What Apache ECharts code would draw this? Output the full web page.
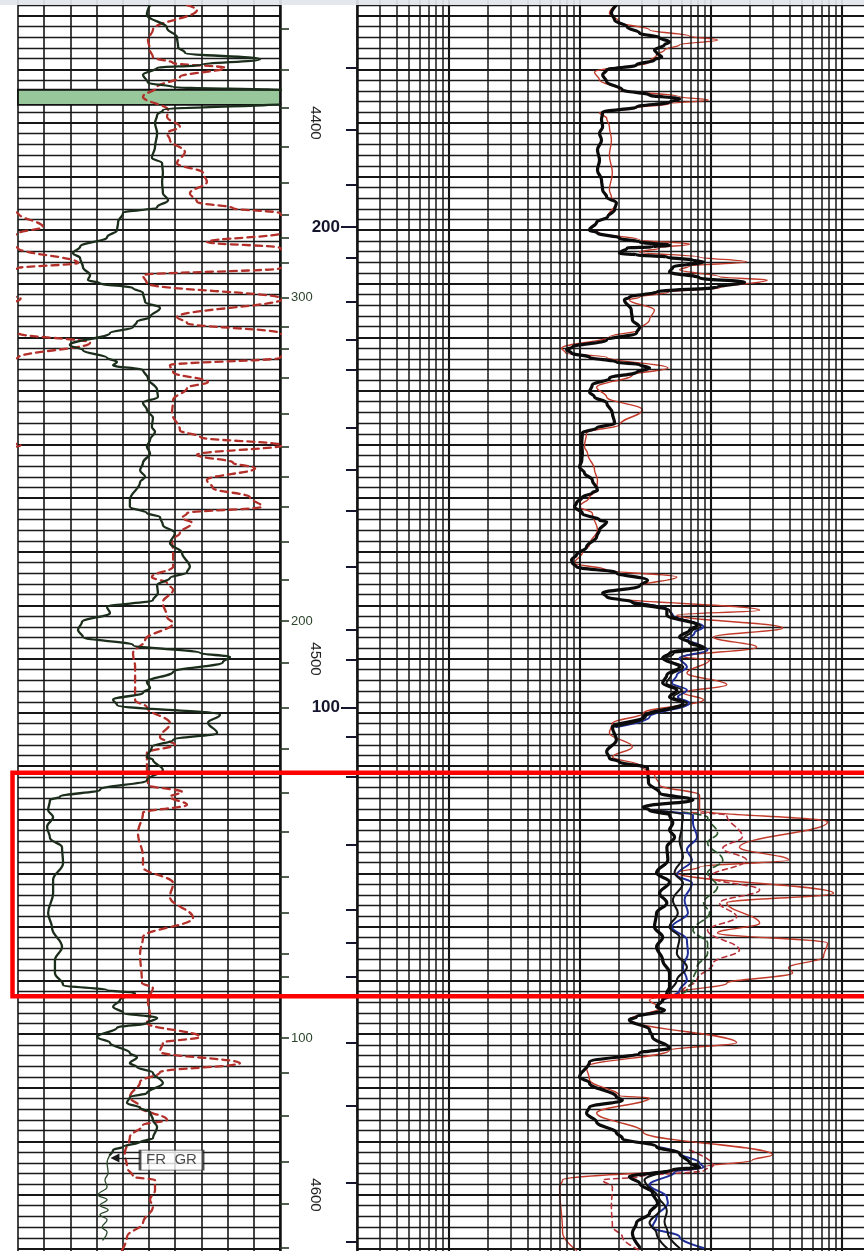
<!DOCTYPE html>
<html><head><meta charset="utf-8">
<script src="https://cdn.jsdelivr.net/npm/echarts@6/dist/echarts.min.js"></script>
<style>html,body{margin:0;padding:0;background:#fff}#c{width:864px;height:1251px}</style>
</head><body><div id="c"></div>
<script>
// ---------------- DATA ----------------
const depthMin = 4370, depthMax = 4620;
const depthLabels = [4400, 4500, 4600];

// Left track tick marks (right edge) and their labels
const leftTickDepths = [4382.5,4390.1,4397.2,4404.5,4411.2,4417.2,4421.5,4426.1,4432.6,4438.1,4442.2,4447.6,4454.3,4460.4,4466.0,4471.6,4478.2,4485.3,4492.9,4500.7,4509.1,4516.8,4525.0,4532.3,4540.7,4547.4,4554.9,4559.3,4570.7,4577.2,4585.3,4593.8,4601.7,4609.9];
const leftLabelDepths = [4432.6, 4492.9, 4570.7];
const leftLabelText = ['300', '200', '100'];

// Right track tick marks (left edge) and their labels
const rightTickDepths = [4389.7,4401.3,4411.6,4419.4,4425.2,4433.4,4440.5,4446.1,4456.9,4464.7,4472.4,4482.8,4494.6,4500.2,4509.1,4514.5,4522.0,4534.7,4546.8,4553.0,4559.3,4571.6,4583.4,4597.8,4608.8];
const rightLabelDepths = [4419.4, 4509.1];
const rightLabelText = ['200', '100'];

// log grid lines of the right track
const logGridLines = [0.2,0.3,0.4,0.5,0.6,0.7,0.8,0.9,1,2,3,4,5,6,7,8,9,10,20,30,40,50,60,70,80,90,100,200,300,400,500,600,700,800,900,1000,2000];
const logDecades = [1,10,100,1000];

// Left track: solid curve  [value (chart divisions 0-10), depth]
const curveA = [[5.04,4378.0],[4.92,4379.8],[5.69,4382.3],[6.07,4384.0],[6.11,4385.8],[6.37,4386.9],[9.24,4388.1],[6.95,4389.2],[5.31,4389.7],[4.77,4391.0],[4.96,4392.5],[5.92,4393.3],[10.2,4393.9],[10.2,4396.3],[5.53,4397.6],[5.31,4398.5],[5.23,4400.0],[5.31,4401.9],[5.23,4404.5],[5.11,4406.5],[5.50,4407.5],[5.53,4409.3],[5.50,4411.0],[5.53,4413.1],[5.73,4414.4],[5.31,4415.7],[4.01,4416.8],[3.82,4418.5],[3.78,4420.0],[3.40,4421.3],[2.37,4423.1],[2.10,4424.3],[2.37,4425.2],[2.48,4426.9],[2.75,4428.4],[2.67,4429.3],[3.13,4429.9],[4.39,4430.8],[4.77,4431.7],[4.85,4433.4],[5.42,4434.5],[5.04,4436.2],[4.54,4437.1],[4.39,4438.1],[3.51,4439.2],[1.98,4441.4],[2.48,4442.4],[3.40,4443.8],[3.78,4444.6],[3.63,4445.2],[4.77,4446.1],[4.96,4447.6],[5.31,4449.8],[5.34,4451.1],[4.77,4452.2],[4.92,4453.5],[5.15,4455.0],[5.11,4456.7],[5.23,4457.6],[5.04,4459.1],[4.92,4460.4],[5.04,4461.6],[4.77,4463.4],[4.66,4464.8],[4.85,4466.0],[4.66,4467.0],[4.27,4470.3],[4.27,4471.6],[4.92,4472.8],[5.42,4473.5],[5.53,4475.0],[5.99,4476.5],[5.80,4478.4],[6.26,4480.2],[6.56,4482.8],[6.45,4483.8],[5.80,4484.9],[5.31,4486.2],[5.34,4487.7],[5.15,4489.0],[3.40,4490.3],[3.51,4491.4],[2.44,4493.1],[2.29,4494.6],[2.48,4495.9],[4.39,4497.4],[6.95,4498.9],[8.09,4499.6],[7.82,4500.6],[5.92,4502.4],[4.92,4504.3],[5.04,4505.4],[4.77,4506.3],[3.63,4507.6],[3.78,4508.6],[7.71,4510.4],[7.25,4511.9],[7.60,4513.8],[5.92,4515.1],[5.11,4516.4],[4.92,4518.3],[5.15,4518.8],[5.53,4520.7],[4.92,4522.6],[3.13,4524.4],[1.60,4525.7],[1.22,4526.3],[1.15,4528.2],[1.34,4529.5],[1.11,4531.3],[1.22,4533.4],[1.68,4535.1],[1.72,4538.1],[1.34,4541.2],[1.34,4543.7],[1.15,4547.4],[1.30,4550.2],[1.68,4553.7],[1.41,4556.2],[1.41,4558.6],[1.72,4560.8],[3.40,4561.8],[4.47,4562.3],[3.89,4563.6],[3.63,4564.9],[4.01,4566.0],[5.31,4567.0],[4.92,4567.9],[3.78,4568.8],[3.02,4570.5],[3.51,4571.6],[4.27,4573.5],[4.54,4574.3],[4.27,4575.4],[4.54,4576.1],[5.15,4577.2],[5.53,4579.1],[4.92,4581.0],[4.27,4581.7],[4.16,4582.8],[4.66,4583.8],[5.04,4584.5],[5.15,4586.0],[5.31,4587.3],[5.15,4589.4],[4.66,4590.1],[4.01,4591.0],[3.63,4591.6],[3.51,4592.5]];
const curveAThin = [[3.51,4592.5],[3.40,4594.0],[3.44,4595.9],[3.32,4597.2],[3.40,4598.5],[3.05,4600.0],[3.40,4600.9],[3.13,4601.9],[3.44,4602.8],[3.13,4603.7],[3.40,4604.6],[3.21,4606.0],[3.40,4606.9],[3.24,4608.4]];
// Left track: dashed curve (values above 10 wrap onto the backup scale)
const curveB = [[6.45,4378.0],[6.83,4378.9],[5.15,4382.6],[4.96,4384.5],[5.04,4386.4],[5.15,4387.7],[5.92,4388.8],[7.90,4389.7],[6.18,4391.4],[5.31,4393.3],[4.77,4395.1],[5.73,4397.6],[5.69,4398.9],[6.18,4400.7],[5.69,4401.9],[5.80,4403.2],[6.37,4405.4],[6.07,4407.5],[7.06,4409.3],[7.21,4411.0],[6.56,4413.1],[6.83,4414.7],[8.21,4415.9],[10.0,4416.8],[10.95,4419.4],[10.0,4420.6],[7.21,4422.2],[10.0,4423.3],[12.29,4426.1],[10.0,4427.1],[4.77,4428.4],[4.92,4429.9],[10.1,4432.8],[6.07,4436.2],[6.45,4437.3],[10.0,4439.2],[12.75,4441.0],[10.0,4443.8],[5.80,4445.2],[5.92,4446.5],[7.25,4448.3],[6.45,4449.4],[5.92,4451.7],[5.88,4454.1],[6.18,4457.3],[6.95,4458.6],[10.1,4460.1],[6.83,4461.9],[8.21,4463.4],[9.05,4464.4],[7.21,4466.6],[7.44,4468.1],[8.85,4469.8],[9.31,4471.6],[6.45,4472.8],[6.26,4473.7],[6.64,4474.6],[6.18,4476.5],[5.88,4477.8],[5.92,4480.2],[5.92,4482.8],[5.11,4484.7],[5.69,4485.8],[5.92,4487.1],[5.53,4489.4],[5.69,4492.2],[5.92,4493.3],[4.85,4496.5],[4.39,4498.9],[4.47,4501.5],[4.47,4507.7],[4.92,4509.0],[5.80,4512.0],[5.42,4514.6],[5.99,4516.0],[4.92,4517.5],[4.92,4520.2],[4.96,4523.5],[6.26,4524.8],[5.80,4525.7],[6.45,4527.2],[4.77,4528.7],[4.58,4532.5],[4.77,4536.9],[4.77,4538.8],[5.92,4541.8],[5.80,4544.4],[6.68,4548.3],[4.77,4551.9],[4.66,4554.9],[4.73,4560.4],[5.15,4561.4],[4.96,4563.6],[5.04,4566.8],[4.92,4567.9],[6.95,4570.5],[5.53,4571.6],[5.42,4573.3],[8.47,4575.4],[5.42,4577.1],[4.66,4578.9],[4.27,4581.7],[4.66,4583.6],[5.69,4586.0],[4.77,4586.9],[4.27,4589.2],[4.08,4592.2],[4.16,4594.8],[4.39,4596.6],[5.23,4597.2],[5.23,4599.1],[5.04,4600.9],[5.15,4602.2],[4.77,4605.2],[4.16,4607.8],[3.97,4610.3]];
const greenBand = [4393.8, 4396.6];
const labelFRGR = {value: 5.86, depth: 4593.5, arrowFrom: 4.66, arrowTo: 3.7, arrowDepth: 4593.1, text: 'FR  GR'};

// Right track (log, 0.2 - 2000): [value, depth]
const blackMain = [[19.1,4378.0],[17.5,4379.5],[18.5,4380.8],[23.1,4382.1],[28.7,4383.2],[40.8,4384.1],[48.6,4384.9],[44.5,4385.4],[37.3,4386.4],[38.7,4386.9],[42.4,4387.7],[37.3,4388.2],[27.2,4389.2],[16.1,4390.1],[15.0,4391.0],[16.1,4392.3],[21.2,4393.8],[34.2,4394.8],[58.0,4395.5],[48.6,4396.1],[27.2,4397.0],[15.0,4398.0],[14.7,4399.4],[15.0,4400.7],[14.2,4401.9],[14.7,4403.2],[13.7,4405.0],[14.2,4406.9],[13.7,4408.8],[14.7,4410.6],[15.0,4412.5],[16.1,4413.8],[19.1,4414.9],[18.5,4416.2],[16.4,4417.5],[13.5,4418.5],[11.9,4420.0],[13.7,4420.5],[20.2,4421.5],[28.7,4422.2],[48.6,4422.8],[36.0,4423.1],[23.1,4423.3],[20.2,4424.3],[27.2,4424.6],[46.4,4425.0],[73.4,4425.6],[88.4,4425.9],[51.5,4426.9],[48.6,4427.8],[82.4,4428.9],[182,4429.7],[113,4430.6],[38.7,4431.5],[24.0,4432.5],[22.0,4433.0],[24.8,4434.9],[25.3,4436.7],[28.7,4438.1],[27.2,4439.2],[16.1,4440.5],[8.83,4441.8],[7.96,4442.3],[8.68,4442.9],[11.9,4443.7],[19.1,4444.6],[28.7,4445.1],[34.2,4445.7],[27.2,4446.5],[16.9,4447.6],[12.5,4448.9],[11.9,4450.2],[13.0,4451.1],[16.1,4452.2],[17.8,4454.1],[18.5,4456.0],[13.5,4456.9],[10.5,4457.8],[10.4,4459.7],[10.5,4461.6],[10.4,4462.9],[10.0,4464.2],[10.9,4465.3],[12.5,4466.6],[13.7,4468.5],[12.5,4469.0],[10.5,4469.8],[9.47,4470.9],[9.15,4471.6],[10.5,4472.8],[14.2,4474.1],[16.1,4474.4],[14.2,4475.9],[13.5,4477.2],[11.3,4479.1],[9.47,4480.6],[8.68,4481.5],[8.83,4482.1],[9.47,4482.8],[19.1,4483.9],[33.0,4485.3],[28.7,4486.4],[15.0,4487.7],[16.1,4488.4],[25.3,4489.4],[46.4,4490.9],[46.4,4491.8],[78.8,4493.7],[69.1,4494.6],[58.0,4495.9],[69.1,4497.0],[88.4,4497.8],[48.6,4498.9],[43.1,4499.8],[58.0,4501.5],[46.4,4503.0],[43.1,4504.5],[55.3,4505.8],[48.6,4507.1],[61.5,4508.2],[30.7,4510.8],[17.8,4512.7],[19.1,4515.1],[16.1,4517.3],[16.9,4518.5],[20.2,4519.2],[33.0,4520.3],[33.6,4523.1],[40.8,4525.0],[73.4,4526.3],[30.7,4527.6],[34.2,4528.2],[48.6,4529.1],[51.5,4530.6],[48.6,4531.9],[53.1,4533.2],[46.4,4535.1],[47.2,4537.5],[38.7,4539.9],[48.6,4541.6],[40.8,4543.7],[46.4,4545.5],[38.7,4547.4],[37.3,4550.0],[43.1,4551.9],[38.7,4553.7],[43.1,4556.2],[48.6,4558.6],[48.6,4561.2],[46.4,4562.3],[43.1,4563.6],[38.7,4564.9],[44.5,4565.5],[27.2,4566.8],[24.0,4567.3],[34.2,4569.2],[36.0,4570.5],[48.6,4572.6],[28.7,4573.5],[11.9,4575.2],[10.0,4578.0],[11.9,4579.1],[19.1,4581.7],[21.2,4582.3],[11.9,4583.6],[11.3,4584.7],[13.5,4586.4],[19.1,4588.4],[21.2,4589.4],[38.7,4591.0],[58.0,4592.2],[69.1,4594.0],[82.4,4594.8],[51.5,4595.3],[24.0,4596.6],[28.7,4597.8],[36.0,4599.6],[39.4,4601.5],[34.2,4603.4],[27.2,4605.2],[25.3,4607.1],[28.7,4609.7]];
const blackSecondUpper = [[25.3,4489.4],[48.6,4490.9],[50.6,4491.8],[84.0,4493.9],[72.0,4494.8],[62.0,4496.2],[75.0,4497.2],[92.0,4498.0],[52.0,4499.0],[45.0,4500.0],[62.0,4501.5],[50.0,4503.0],[46.0,4504.5],[60.0,4505.8],[52.0,4507.1],[66.0,4508.2],[32.0,4510.8],[17.8,4512.7]];
const blackSecondBox = [[34.2,4528.2],[61.5,4529.1],[60.4,4531.3],[58.0,4533.8],[61.5,4536.9],[53.1,4539.9],[61.5,4541.8],[51.5,4545.0],[56.2,4547.4],[48.6,4550.0],[58.0,4551.9],[55.3,4554.9],[66.0,4557.5],[55.3,4559.9],[48.6,4562.3],[43.1,4563.6]];
const blackSecondLower = [[51.5,4595.3],[31.3,4597.2],[40.8,4600.9],[40.8,4602.8],[34.2,4605.2],[38.7,4607.1],[46.4,4609.9]];
const blackThirdLower = [[40.8,4600.9],[46.4,4603.0],[44.5,4605.0],[47.2,4607.1],[58.0,4609.9]];
const blueUpper = [[25.3,4489.4],[48.6,4490.9],[51.5,4491.8],[88.4,4494.0],[75.5,4495.1],[67.2,4496.5],[82.4,4497.4],[94.9,4498.3],[58.0,4499.8],[66.0,4501.5],[55.3,4503.0],[50.6,4504.5],[66.0,4505.8],[56.2,4507.1],[69.1,4508.2],[34.2,4510.8],[19.1,4512.7]];
const blueBox = [[34.2,4528.2],[73.4,4529.1],[73.4,4530.6],[78.8,4533.2],[66.0,4535.6],[72.1,4537.5],[55.3,4540.3],[72.1,4541.8],[63.3,4545.0],[67.2,4547.4],[50.6,4550.0],[66.0,4552.4],[67.2,4554.9],[61.5,4557.5],[66.0,4559.9],[58.0,4561.8],[43.1,4563.6]];
const blueLower = [[38.7,4591.0],[58.0,4592.2],[82.4,4594.0],[88.4,4594.8],[53.1,4595.7],[34.2,4598.1],[46.4,4600.4],[47.2,4601.5],[38.7,4604.1],[36.0,4606.0],[58.0,4607.8],[88.4,4609.9]];
const greenDashBox = [[61.5,4528.6],[94.9,4529.5],[113,4532.5],[94.9,4534.3],[124,4537.5],[94.9,4539.9],[113,4542.5],[88.4,4545.5],[98.2,4547.4],[73.4,4550.6],[94.9,4553.0],[94.9,4554.9],[78.8,4557.5],[73.4,4559.9],[66.0,4561.8],[48.6,4563.1]];
const redDashBox = [[61.5,4528.6],[133,4529.1],[175,4533.2],[124,4535.3],[188,4537.5],[98.2,4540.7],[237,4543.1],[117,4545.5],[158,4548.1],[94.9,4550.6],[166,4554.3],[105,4556.7],[78.8,4559.9],[61.5,4561.8],[48.6,4563.1]];
const redDashLower = [[69.1,4591.6],[105,4594.5],[90.0,4595.4],[28.7,4596.6],[15.0,4597.2],[17.8,4598.5],[17.5,4602.2],[17.8,4605.9],[21.2,4607.8],[28.7,4610.3]];
const redSolid = [[19.1,4378.0],[16.9,4379.5],[20.2,4381.2],[34.2,4382.6],[69.1,4383.8],[113,4384.5],[58.0,4385.4],[44.5,4386.4],[38.7,4387.3],[34.2,4388.6],[13.0,4390.5],[14.2,4392.0],[20.2,4393.8],[58.0,4395.1],[96.6,4395.7],[48.6,4396.4],[27.2,4397.2],[14.2,4398.1],[16.1,4399.1],[16.9,4400.7],[17.5,4403.2],[16.9,4406.0],[17.8,4409.3],[16.9,4412.5],[17.5,4413.8],[19.1,4414.9],[16.4,4417.5],[13.5,4418.5],[11.9,4420.0],[14.2,4420.5],[28.7,4421.8],[69.1,4422.6],[40.8,4423.3],[28.7,4424.1],[82.4,4425.0],[188,4425.9],[69.1,4426.7],[58.0,4427.4],[117,4428.7],[271,4429.3],[117,4430.8],[48.6,4431.5],[28.7,4432.5],[24.0,4433.0],[37.3,4434.9],[34.2,4436.7],[28.7,4438.6],[16.9,4439.9],[7.29,4442.0],[7.82,4442.9],[16.1,4443.7],[47.2,4445.7],[25.3,4447.0],[13.5,4449.3],[16.1,4451.1],[30.2,4453.5],[20.2,4456.3],[11.3,4457.8],[10.9,4460.4],[11.5,4461.6],[13.0,4464.7],[13.7,4466.6],[13.5,4468.5],[11.9,4469.8],[10.0,4471.6],[12.5,4472.8],[13.7,4475.9],[11.9,4478.7],[10.5,4480.2],[9.15,4482.1],[16.1,4483.4],[55.3,4484.7],[28.7,4486.4],[15.0,4487.7],[16.1,4488.4],[237,4490.9],[55.3,4491.8],[355,4494.2],[105,4495.9],[225,4497.8],[61.5,4499.6],[98.2,4500.2],[66.0,4502.6],[133,4504.8],[61.5,4506.3],[88.4,4507.6],[30.7,4510.1],[17.8,4512.0],[16.9,4513.8],[25.3,4516.4],[17.8,4518.3],[28.7,4519.8],[37.3,4521.6],[40.8,4523.5],[82.4,4525.4],[82.4,4528.2],[782,4530.4],[166,4535.1],[394,4537.5],[82.4,4538.8],[55.3,4539.9],[868,4543.7],[133,4545.5],[237,4549.3],[113,4551.1],[782,4553.0],[728,4555.6],[394,4557.6],[423,4558.6],[133,4560.5],[55.3,4562.3],[34.2,4563.6],[40.8,4565.1],[24.0,4567.3],[158,4571.6],[48.6,4573.0],[11.3,4576.1],[11.9,4578.5],[20.2,4581.5],[34.2,4581.9],[13.5,4584.7],[30.7,4588.3],[297,4592.5],[208,4593.5],[88.4,4594.8],[7.42,4597.2],[7.04,4598.5],[7.42,4607.1],[9.47,4610.3]];

// annotation box (depth range) around the zone of interest
const redBoxDepths = [4521.2, 4562.9];
const redBoxLeftValue = -0.21;

// ---------------- CHART ----------------
const FONT = 'Liberation Sans, Arial, Helvetica, sans-serif';
const chart = echarts.init(document.getElementById('c'), null, {renderer: 'canvas'});
const nearestLabel = (depths, texts) => v => {
  for (let i = 0; i < depths.length; i++) if (Math.abs(depths[i] - v) < 0.05) return texts[i];
  return '';
};
const baseY = {type: 'value', min: depthMin, max: depthMax, inverse: true};
const hiddenAxisParts = {axisLine: {show: false}, axisTick: {show: false}, axisLabel: {show: false}};
const gridLineAxis = (gi) => Object.assign({}, baseY, hiddenAxisParts, {
  gridIndex: gi, position: 'left', interval: 10,
  splitLine: {show: true, lineStyle: {color: '#161616', width: 2}},
  minorTick: {show: false, splitNumber: 5},
  minorSplitLine: {show: true, lineStyle: {color: '#1a1a1a', width: 1.4}}
});
const lineSeries = (data, xi, yi, color, width, type, z) => ({
  type: 'line', data: data, xAxisIndex: xi, yAxisIndex: yi, symbol: 'none', showSymbol: false,
  smooth: 0.4, smoothMonotone: 'y', silent: true, clip: true, z: z || 3,
  lineStyle: {color: color, width: width, type: type || 'solid', cap: 'round', join: 'round'},
  emphasis: {disabled: true}
});

const option = {
  animation: false,
  backgroundColor: '#ffffff',
  grid: [
    {left: 18, top: -37.8, width: 262, height: 1340, containLabel: false, outerBoundsMode: 'none'},
    {left: 357, top: -37.8, width: 524, height: 1340, containLabel: false, outerBoundsMode: 'none'}
  ],
  xAxis: [
    Object.assign({gridIndex: 0, type: 'value', min: 0, max: 10, interval: 1}, hiddenAxisParts,
      {splitLine: {show: true, lineStyle: {color: '#161616', width: 1.6}}}),
    Object.assign({gridIndex: 1, type: 'log', logBase: 10, min: 0.2, max: 2000}, hiddenAxisParts,
      {splitLine: {show: false}, minorSplitLine: {show: false}})
  ],
  yAxis: [
    gridLineAxis(0),
    Object.assign({}, baseY, {
      gridIndex: 0, position: 'right', offset: 0,
      axisLine: {show: true, lineStyle: {color: '#111', width: 2.5}},
      axisTick: {show: true, inside: false, length: 9, customValues: leftTickDepths, lineStyle: {color: '#263826', width: 1.6}},
      axisLabel: {show: true, customValues: leftLabelDepths, formatter: nearestLabel(leftLabelDepths, leftLabelText),
        margin: 11, fontSize: 13, color: '#2b442b', fontFamily: FONT},
      splitLine: {show: false}
    }),
    Object.assign({}, baseY, {
      gridIndex: 0, position: 'right', offset: 22,
      axisLine: {show: false}, axisTick: {show: false},
      axisLabel: {show: true, customValues: depthLabels, formatter: v => String(Math.round(v)), rotate: -90, margin: 6,
        fontSize: 15, color: '#222', fontFamily: FONT},
      splitLine: {show: false}
    }),
    gridLineAxis(1),
    Object.assign({}, baseY, {
      gridIndex: 1, position: 'left', offset: 0,
      axisLine: {show: true, lineStyle: {color: '#111', width: 2.5}},
      axisTick: {show: true, inside: false, length: 11, customValues: rightTickDepths, lineStyle: {color: '#15152e', width: 2}},
      axisLabel: {show: false}, splitLine: {show: false}
    }),
    Object.assign({}, baseY, {
      gridIndex: 1, position: 'left', offset: 0,
      axisLine: {show: false},
      axisTick: {show: true, inside: false, length: 16, customValues: rightLabelDepths, lineStyle: {color: '#15152e', width: 2}},
      axisLabel: {show: true, customValues: rightLabelDepths, formatter: nearestLabel(rightLabelDepths, rightLabelText),
        margin: 17, fontSize: 17, fontWeight: 'bold', color: '#15152e', fontFamily: FONT},
      splitLine: {show: false}
    })
  ],
  series: [
    // vertical log grid of the right track
    {
      type: 'line', data: [], xAxisIndex: 1, yAxisIndex: 3, silent: true, z: 1,
      markLine: {
        silent: true, symbol: ['none', 'none'], label: {show: false}, animation: false,
        emphasis: {disabled: true},
        data: logGridLines.map(v => ({xAxis: v, lineStyle: {color: '#161616', type: 'solid', width: logDecades.indexOf(v) >= 0 ? 2.1 : 1.5}}))
      }
    },
    // right track curves
    lineSeries(redSolid, 1, 3, '#c23a2a', 1.4, 'solid', 3),
    lineSeries(redDashBox, 1, 3, '#b8333a', 1.6, [5, 4], 3),
    lineSeries(redDashLower, 1, 3, '#b8333a', 1.6, [5, 4], 3),
    lineSeries(greenDashBox, 1, 3, '#2c5a2c', 1.7, [7, 4], 3),
    lineSeries(blueUpper, 1, 3, '#1f2f9a', 2, 'solid', 4),
    lineSeries(blueBox, 1, 3, '#1f2f9a', 2, 'solid', 4),
    lineSeries(blueLower, 1, 3, '#1f2f9a', 2, 'solid', 4),
    lineSeries(blackSecondUpper, 1, 3, '#141414', 2, 'solid', 4),
    lineSeries(blackSecondBox, 1, 3, '#141414', 2.1, 'solid', 4),
    lineSeries(blackSecondLower, 1, 3, '#141414', 2.1, 'solid', 4),
    lineSeries(blackThirdLower, 1, 3, '#141414', 2, 'solid', 4),
    lineSeries(blackMain, 1, 3, '#0b0b0b', 3.2, 'solid', 5),
    // left track: dashed curve and its wrapped (backup) trace
    lineSeries(curveB, 0, 0, '#b3302a', 2.3, [7, 5], 3),
    lineSeries(curveB.map(p => [p[0] - 10, p[1]]), 0, 0, '#b3302a', 2.3, [7, 5], 3),
    // left track: solid curve with green band
    Object.assign(lineSeries(curveA, 0, 0, '#1b2d1b', 2.3, 'solid', 5), {
      markArea: {
        silent: true, animation: false,
        itemStyle: {color: '#97c79a', borderColor: '#111', borderWidth: 1.8,
          decal: {symbol: 'circle', symbolSize: 0.6, color: 'rgba(30,70,30,0.35)', dashArrayX: [2, 1], dashArrayY: [2, 1]}},
        data: [[{yAxis: greenBand[0]}, {yAxis: greenBand[1]}]]
      }
    }),
    lineSeries(curveAThin, 0, 0, '#2a4a2a', 1.3, 'solid', 5),
    // FR GR label with arrow
    {
      type: 'scatter', xAxisIndex: 0, yAxisIndex: 0, silent: true, z: 8,
      data: [[labelFRGR.value, labelFRGR.depth]],
      symbol: 'rect', symbolSize: [63, 20],
      itemStyle: {color: '#ffffff', borderColor: '#222', borderWidth: 1.6},
      label: {show: true, position: 'inside', formatter: labelFRGR.text, fontSize: 15, color: '#1a1a1a', fontFamily: FONT},
      emphasis: {disabled: true},
      markLine: {
        silent: true, animation: false, symbol: ['none', 'triangle'], symbolSize: 9,
        label: {show: false}, lineStyle: {color: '#1a1a1a', width: 1.3, type: 'solid'},
        data: [[{coord: [labelFRGR.arrowFrom, labelFRGR.arrowDepth]}, {coord: [labelFRGR.arrowTo, labelFRGR.arrowDepth]}]]
      }
    }
  ]
};
chart.setOption(option);

const yTop = chart.convertToPixel({yAxisIndex: 0}, redBoxDepths[0]);
const yBot = chart.convertToPixel({yAxisIndex: 0}, redBoxDepths[1]);
const xL = chart.convertToPixel({xAxisIndex: 0}, redBoxLeftValue);
chart.setOption({
  graphic: [
    {type: 'rect', silent: true, z: 100, shape: {x: 0, y: 0, width: 864, height: 5}, style: {fill: 'rgba(226,229,234,0.92)'}},
    {type: 'rect', silent: true, z: 101, shape: {x: xL, y: yTop, width: 900, height: yBot - yTop}, style: {fill: 'none', stroke: '#ff0000', lineWidth: 4.5}}
  ]
});
</script></body></html>
